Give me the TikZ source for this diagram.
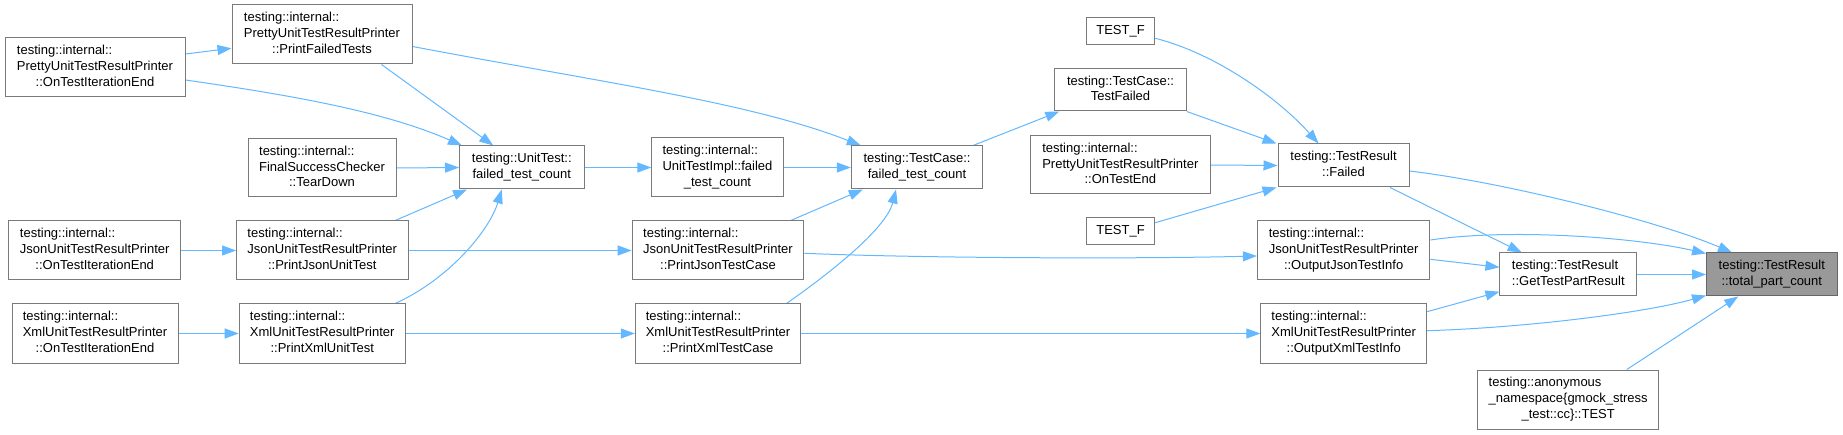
\documentclass[tikz,border=0pt]{standalone}
\usepackage{fontspec}
\setmainfont{Liberation Sans}
\usetikzlibrary{arrows.meta}
\pgfdeclarelayer{bg}
\pgfsetlayers{bg,main}
\definecolor{edgeblue}{HTML}{63B8FF}
\definecolor{boxgray}{HTML}{7A7A7A}
\definecolor{hlfill}{HTML}{999999}
\definecolor{hlborder}{HTML}{666666}
\newcommand{\doxl}[2]{\begin{tabular}{@{}l@{}}#1\\\multicolumn{1}{@{}c@{}}{#2}\end{tabular}}
\begin{document}
\begin{tikzpicture}[x=1pt,y=-1pt,
  box/.style={draw=boxgray, fill=white, line width=1pt, inner sep=0pt, font=\fontsize{13}{15.7}\selectfont},
  hl/.style={box, draw=hlborder, fill=hlfill},
  ed/.style={draw=edgeblue, line width=1pt, -{Triangle[length=14pt,width=10pt]}}]
\useasboundingbox (0,0) rectangle (1843,435);

\node[box,minimum width=180,minimum height=59] (pOTIE) at (95,67.5) {\doxl{testing::internal::\\PrettyUnitTestResultPrinter}{::OnTestIterationEnd}};
\node[box,minimum width=180,minimum height=59] (pPFT) at (322,34.5) {\doxl{testing::internal::\\PrettyUnitTestResultPrinter}{::PrintFailedTests}};
\node[box,minimum width=148,minimum height=58] (fsc) at (322,168) {\doxl{testing::internal::\\FinalSuccessChecker}{::TearDown}};
\node[box,minimum width=124.5,minimum height=43] (ut) at (521.75,167.5) {\doxl{testing::UnitTest::}{failed\_test\_count}};
\node[box,minimum width=172,minimum height=59] (jOTIE) at (94.7,250.5) {\doxl{testing::internal::\\JsonUnitTestResultPrinter}{::OnTestIterationEnd}};
\node[box,minimum width=171.5,minimum height=59] (pJUT) at (322.25,250.5) {\doxl{testing::internal::\\JsonUnitTestResultPrinter}{::PrintJsonUnitTest}};
\node[box,minimum width=166,minimum height=59] (xOTIE) at (95,333.5) {\doxl{testing::internal::\\XmlUnitTestResultPrinter}{::OnTestIterationEnd}};
\node[box,minimum width=166,minimum height=59] (pXUT) at (322.2,333.5) {\doxl{testing::internal::\\XmlUnitTestResultPrinter}{::PrintXmlUnitTest}};
\node[box,minimum width=131.4,minimum height=59] (uti) at (717.5,167.5) {\doxl{testing::internal::\\UnitTestImpl::failed}{\_test\_count}};
\node[box,minimum width=131.4,minimum height=43] (tc) at (917,167.5) {\doxl{testing::TestCase::}{failed\_test\_count}};
\node[box,minimum width=171.7,minimum height=59] (pJTC) at (718,250.5) {\doxl{testing::internal::\\JsonUnitTestResultPrinter}{::PrintJsonTestCase}};
\node[box,minimum width=165.4,minimum height=59] (pXTC) at (718,333.5) {\doxl{testing::internal::\\XmlUnitTestResultPrinter}{::PrintXmlTestCase}};
\node[box,minimum width=68.4,minimum height=27] (tf1) at (1120.5,31.5) {TEST\_F};
\node[box,minimum width=131.4,minimum height=42] (tcTF) at (1120.5,90) {\doxl{testing::TestCase::}{TestFailed}};
\node[box,minimum width=180,minimum height=58] (pOTE) at (1120.3,165) {\doxl{testing::internal::\\PrettyUnitTestResultPrinter}{::OnTestEnd}};
\node[box,minimum width=68.4,minimum height=27] (tf2) at (1120.5,231.5) {TEST\_F};
\node[box,minimum width=131,minimum height=43] (trF) at (1343.5,165.5) {\doxl{testing::TestResult}{::Failed}};
\node[box,minimum width=172.4,minimum height=59] (oJTI) at (1343.6,250.5) {\doxl{testing::internal::\\JsonUnitTestResultPrinter}{::OutputJsonTestInfo}};
\node[box,minimum width=165.7,minimum height=59] (oXTI) at (1343.7,333.5) {\doxl{testing::internal::\\XmlUnitTestResultPrinter}{::OutputXmlTestInfo}};
\node[box,minimum width=136.7,minimum height=43] (gtpr) at (1568.3,274.5) {\doxl{testing::TestResult}{::GetTestPartResult}};
\node[hl,minimum width=130.5,minimum height=43] (tpc) at (1771.8,274.5) {\doxl{testing::TestResult}{::total\_part\_count}};
\node[box,minimum width=181.4,minimum height=59] (anon) at (1568.2,399.5) {\doxl{testing::anonymous\\\_namespace\{gmock\_stress}{\_test::cc\}::TEST}};

\begin{pgfonlayer}{bg}
\fill[white] (0,0) rectangle (1843,435);
\draw[ed] ([yshift=13.5pt]pOTIE.east) -- ([yshift=-13.8pt]pPFT.west);
\draw[ed] ([yshift=-12.5pt]pOTIE.east) .. controls +(100,14.5) and +(-80,-35) .. ([xshift=3pt]ut.north west);
\draw[ed] ([xshift=59.5pt]pPFT.south) -- ([xshift=-28.5pt]ut.north);
\draw[ed] ([yshift=-12pt]pPFT.east) .. controls +(190,36) and +(-110,-43) .. ([xshift=10pt]tc.north west);
\draw[ed] (fsc.east) -- (ut.west);
\draw[ed] ([xshift=73pt]pJUT.north) -- ([xshift=8pt]ut.south west);
\draw[ed] ([xshift=73pt]pXUT.north) .. controls +(55,-25) and +(-12,40) .. ([xshift=-20pt]ut.south);
\draw[ed] (jOTIE.east) -- (pJUT.west);
\draw[ed] (xOTIE.east) -- (pXUT.west);
\draw[ed] (ut.east) -- (uti.west);
\draw[ed] (uti.east) -- (tc.west);
\draw[ed] ([xshift=72.7pt]pJTC.north) -- ([xshift=12pt]tc.south west);
\draw[ed] ([xshift=68.5pt]pXTC.north) .. controls +(40,-28) and +(-10,40) .. ([xshift=-21pt]tc.south);
\draw[ed] (pJUT.east) -- (pJTC.west);
\draw[ed] (pXUT.east) -- (pXTC.west);
\draw[ed] ([xshift=56pt]tc.north) -- ([xshift=5pt]tcTF.south west);
\draw[ed] ([yshift=-6.8pt]tf1.east) .. controls +(60,15) and +(-40,-45) .. ([xshift=-25pt]trF.north);
\draw[ed] (tcTF.south east) -- ([xshift=-1pt]trF.north west);
\draw[ed] (pOTE.east) -- (trF.west);
\draw[ed] ([yshift=8.8pt]tf2.east) -- ([xshift=-1pt]trF.south west);
\draw[ed] ([yshift=-2.8pt]pJTC.east) .. controls +(120,5) and +(-120,3) .. ([yshift=-5.5pt]oJTI.west);
\draw[ed] (pXTC.east) -- (oXTI.west);
\draw[ed] ([yshift=-5.5pt]trF.east) .. controls +(100,12) and +(-70,-30) .. ([xshift=-39.8pt]tpc.north);
\draw[ed] ([xshift=46.5pt]trF.south) -- ([xshift=-46.6pt]gtpr.north);
\draw[ed] ([yshift=10.5pt]oJTI.east) .. controls +(80,-12) and +(-70,-16) .. ([yshift=-1pt]tpc.north west);
\draw[ed] ([yshift=-8.8pt]oJTI.east) -- ([yshift=7.2pt]gtpr.west);
\draw[ed] ([yshift=21.8pt]oXTI.east) -- ([yshift=-17.2pt]gtpr.west);
\draw[ed] ([yshift=2.8pt]oXTI.east) .. controls +(100,-3) and +(-60,17) .. ([yshift=1pt]tpc.south west);
\draw[ed] (gtpr.east) -- (tpc.west);
\draw[ed] ([xshift=58.6pt]anon.north) -- ([xshift=-33.6pt]tpc.south);
\end{pgfonlayer}
\end{tikzpicture}
\end{document}
